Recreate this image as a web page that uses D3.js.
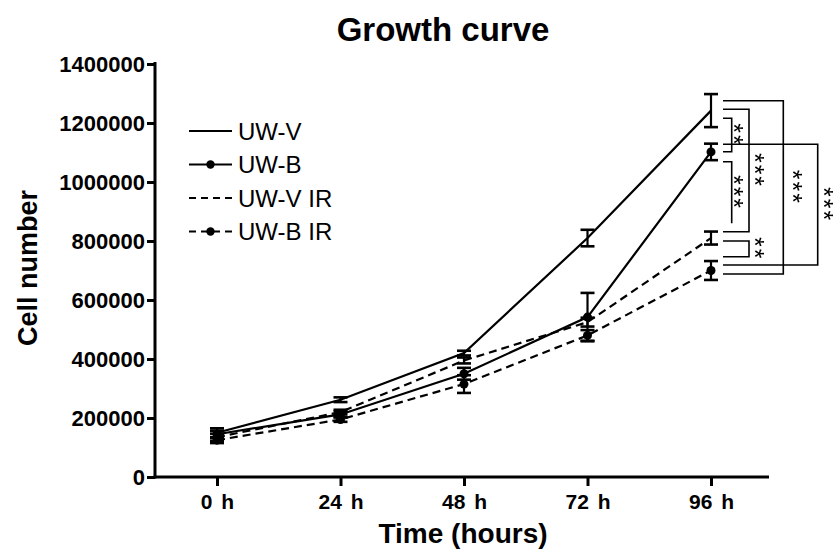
<!DOCTYPE html>
<html>
<head>
<meta charset="utf-8">
<script src="https://cdn.jsdelivr.net/npm/d3@7"></script>
<style>
  html, body { margin: 0; padding: 0; background: #fff; }
  svg { display: block; }
  text { font-family: "Liberation Sans", Arial, sans-serif; fill: #000; }
  .stars { opacity: 0.999; will-change: opacity; }
</style>
</head>
<body>
<svg id="chart" width="838" height="549"></svg>
<script>
// ---------- data ----------
const categories = ["0 h", "24 h", "48 h", "72 h", "96 h"];
const yTicks = [0, 200000, 400000, 600000, 800000, 1000000, 1200000, 1400000];

const seriesNames = ["UW-V", "UW-B", "UW-V IR", "UW-B IR"];
const uwV      = [150000, 262000, 420000, 810000, 1242000];
const uwVErr   = [15000, 8000, 8000, 28000, 56000];
const uwB      = [145000, 212000, 350000, 542000, 1102000];
const uwBErr   = [12000, 10000, 20000, 82000, 28000];
const uwVIR    = [135000, 220000, 395000, 525000, 810000];
const uwVIRErr = [12000, 8000, 10000, 15000, 22000];
const uwBIR    = [125000, 195000, 315000, 480000, 700000];
const uwBIRErr = [10000, 8000, 30000, 18000, 32000];

// significance brackets: top/bottom in data units, column index, label
const brackets = [
  { top: 1275600, bottom: 688100, col: 3, label: "***" },
  { top: 1246400, bottom: 831500, col: 2, label: "***" },
  { top: 1215900, bottom: 1102700, col: 1, label: "**" },
  { top: 1127800, bottom: 718600, col: 4, label: "***" },
  { top: 1068800, bottom: 860000, col: 1, label: "***", open: true },
  { top: 800000, bottom: 746800, col: 2, label: "**" }
];

// ---------- layout ----------
const svg = d3.select("#chart");
const axisX0 = 155, axisX1 = 769;
const x = d3.scalePoint().domain(categories).range([217, 711]);
const y = d3.scaleLinear().domain([0, 1400000]).range([477, 64]);

const series = [
  { name: seriesNames[0], values: uwV, err: uwVErr, dash: null, marker: false },
  { name: seriesNames[1], values: uwB, err: uwBErr, dash: null, marker: true },
  { name: seriesNames[2], values: uwVIR, err: uwVIRErr, dash: "8,5", marker: false },
  { name: seriesNames[3], values: uwBIR, err: uwBIRErr, dash: "8,5", marker: true }
];

// title
svg.append("text").attr("x", 443).attr("y", 41).attr("text-anchor", "middle")
  .attr("font-size", 33).attr("font-weight", "bold").text("Growth curve");

// axes
const yAxis = d3.axisLeft(y).tickValues(yTicks).tickFormat(d3.format("d")).tickSize(8).tickPadding(2);
const gy = svg.append("g").attr("transform", `translate(${axisX0},0)`).call(yAxis);
gy.select(".domain").remove();
gy.selectAll(".tick line").attr("stroke", "#000").attr("stroke-width", 3);
gy.selectAll(".tick text").attr("font-size", 22).attr("font-weight", "bold")
  .attr("font-family", "'Liberation Sans', Arial, sans-serif").attr("fill", "#000");

const xAxis = d3.axisBottom(x).tickSize(9).tickPadding(8);
const gx = svg.append("g").attr("transform", `translate(0,477)`).call(xAxis);
gx.select(".domain").remove();
gx.selectAll(".tick line").attr("stroke", "#000").attr("stroke-width", 3);
gx.selectAll(".tick text").attr("font-size", 21).attr("font-weight", "bold")
  .attr("font-family", "'Liberation Sans', Arial, sans-serif").attr("fill", "#000")
  .style("word-spacing", "3px");

// axis lines
svg.append("line").attr("x1", axisX0).attr("x2", axisX0).attr("y1", 62).attr("y2", 478.5)
  .attr("stroke", "#000").attr("stroke-width", 3);
svg.append("line").attr("x1", axisX0 - 1.5).attr("x2", axisX1).attr("y1", 477).attr("y2", 477)
  .attr("stroke", "#000").attr("stroke-width", 3);

// axis titles
svg.append("text").attr("transform", "translate(37,268) rotate(-90)").attr("text-anchor", "middle")
  .attr("font-size", 27).attr("font-weight", "bold").text("Cell number");
svg.append("text").attr("x", 463).attr("y", 543).attr("text-anchor", "middle")
  .attr("font-size", 28).attr("font-weight", "bold").text("Time (hours)");

// lines
const line = d3.line().x((d, i) => x(categories[i])).y(d => y(d));
series.forEach(s => {
  svg.append("path").attr("d", line(s.values)).attr("fill", "none")
    .attr("stroke", "#000").attr("stroke-width", 2.2)
    .attr("stroke-dasharray", s.dash);
});

// error bars
series.forEach(s => {
  const g = svg.append("g");
  s.values.forEach((v, i) => {
    const cx = x(categories[i]);
    g.append("line").attr("x1", cx).attr("x2", cx).attr("y1", y(v + s.err[i])).attr("y2", y(v - s.err[i]))
      .attr("stroke", "#000").attr("stroke-width", 2.2);
    [v + s.err[i], v - s.err[i]].forEach(e => {
      g.append("line").attr("x1", cx - 7).attr("x2", cx + 7).attr("y1", y(e)).attr("y2", y(e))
        .attr("stroke", "#000").attr("stroke-width", 2.6);
    });
  });
});

// markers
series.filter(s => s.marker).forEach(s => {
  svg.append("g").selectAll("circle").data(s.values).join("circle")
    .attr("cx", (d, i) => x(categories[i])).attr("cy", d => y(d)).attr("r", 4.5).attr("fill", "#000");
});

// legend
const legY = [131, 164.5, 198, 231.5];
series.forEach((s, i) => {
  const g = svg.append("g").attr("transform", `translate(0,${legY[i]})`);
  g.append("line").attr("x1", 189).attr("x2", 232).attr("y1", 0).attr("y2", 0)
    .attr("stroke", "#000").attr("stroke-width", 2.2).attr("stroke-dasharray", s.dash ? "7,5" : null);
  if (s.marker) g.append("circle").attr("cx", 210.5).attr("cy", 0).attr("r", 4.2).attr("fill", "#000");
  g.append("text").attr("x", 238).attr("y", 8.5).attr("font-size", 24).text(s.name);
});

// significance brackets
const bx0 = 723;
const colX = [723, 731.7, 749, 783.3, 817.7];
const labelOffset = [8, 8, 11, 15, 12];
const starG = svg.append("g").attr("class", "stars");
brackets.forEach(b => {
  const xc = colX[b.col];
  const yt = y(b.top), yb = y(b.bottom);
  const p = d3.path();
  p.moveTo(bx0, yt); p.lineTo(xc, yt); p.lineTo(xc, yb);
  if (!b.open) p.lineTo(bx0, yb);
  svg.append("path").attr("d", p.toString()).attr("fill", "none")
    .attr("stroke", "#000").attr("stroke-width", 1.6);
  const lx = xc + labelOffset[b.col], ly = (yt + yb) / 2;
  starG.append("text").attr("transform", `translate(${lx},${ly}) rotate(90)`)
    .attr("text-anchor", "middle").attr("font-size", 25).attr("dy", "0.57em")
    .attr("letter-spacing", "2px").text(b.label);
});
</script>
</body>
</html>
